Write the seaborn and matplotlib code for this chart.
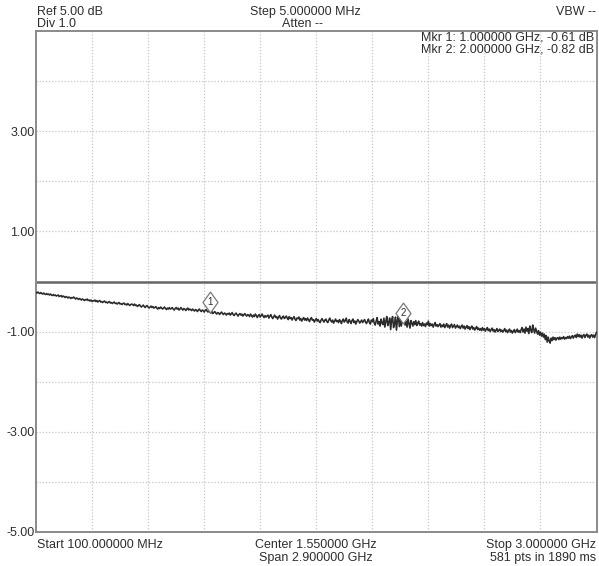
import numpy as np
import pandas as pd
import matplotlib
matplotlib.use("Agg")
import matplotlib.pyplot as plt
from matplotlib.path import Path
from matplotlib.transforms import ScaledTranslation
import seaborn as sns

# Sweep settings
start_mhz = 100.0
step_mhz = 5.0

# Measured trace (dB), one value per sweep point, 100 MHz .. 3000 MHz
trace_db = [
    -0.22,-0.23,-0.21,-0.23,-0.24,-0.22,-0.24,-0.25,-0.23,-0.25,-0.26,-0.24,-0.26,-0.25,-0.27,-0.25,-0.27,-0.28,-0.26,-0.28,
    -0.27,-0.29,-0.28,-0.27,-0.30,-0.29,-0.28,-0.31,-0.29,-0.30,-0.32,-0.30,-0.31,-0.33,-0.31,-0.32,-0.34,-0.32,-0.33,-0.31,
    -0.33,-0.35,-0.33,-0.34,-0.36,-0.34,-0.35,-0.37,-0.35,-0.36,-0.38,-0.36,-0.37,-0.35,-0.38,-0.37,-0.39,-0.37,-0.40,-0.38,
    -0.39,-0.37,-0.40,-0.38,-0.41,-0.39,-0.38,-0.41,-0.40,-0.42,-0.40,-0.39,-0.42,-0.41,-0.43,-0.41,-0.40,-0.43,-0.42,-0.44,
    -0.42,-0.41,-0.44,-0.43,-0.45,-0.43,-0.42,-0.45,-0.44,-0.46,-0.44,-0.43,-0.46,-0.45,-0.47,-0.44,-0.46,-0.48,-0.46,-0.45,
    -0.46,-0.48,-0.45,-0.48,-0.47,-0.50,-0.48,-0.46,-0.49,-0.51,-0.49,-0.47,-0.50,-0.52,-0.49,-0.48,-0.51,-0.53,-0.51,-0.49,
    -0.52,-0.50,-0.53,-0.52,-0.50,-0.53,-0.55,-0.52,-0.54,-0.51,-0.53,-0.55,-0.53,-0.51,-0.54,-0.56,-0.53,-0.55,-0.52,-0.55,
    -0.54,-0.52,-0.55,-0.57,-0.54,-0.52,-0.55,-0.53,-0.57,-0.55,-0.52,-0.55,-0.57,-0.54,-0.55,-0.58,-0.55,-0.53,-0.57,-0.55,
    -0.56,-0.58,-0.55,-0.57,-0.59,-0.56,-0.57,-0.60,-0.57,-0.55,-0.58,-0.60,-0.57,-0.58,-0.61,-0.58,-0.56,-0.59,-0.61,-0.58,
    -0.61,-0.63,-0.60,-0.64,-0.62,-0.60,-0.63,-0.65,-0.62,-0.63,-0.66,-0.63,-0.61,-0.64,-0.66,-0.63,-0.64,-0.67,-0.64,-0.65,
    -0.63,-0.67,-0.65,-0.62,-0.66,-0.68,-0.65,-0.63,-0.66,-0.69,-0.66,-0.64,-0.67,-0.65,-0.69,-0.67,-0.64,-0.67,-0.69,-0.66,
    -0.67,-0.70,-0.65,-0.68,-0.71,-0.67,-0.70,-0.65,-0.68,-0.72,-0.68,-0.66,-0.71,-0.68,-0.65,-0.69,-0.72,-0.68,-0.71,-0.69,
    -0.67,-0.73,-0.69,-0.66,-0.71,-0.74,-0.70,-0.67,-0.72,-0.70,-0.75,-0.71,-0.68,-0.73,-0.75,-0.71,-0.69,-0.74,-0.72,-0.69,
    -0.73,-0.76,-0.70,-0.74,-0.72,-0.77,-0.73,-0.70,-0.75,-0.78,-0.73,-0.74,-0.71,-0.77,-0.74,-0.79,-0.75,-0.72,-0.77,-0.74,
    -0.78,-0.73,-0.76,-0.80,-0.75,-0.72,-0.77,-0.76,-0.81,-0.77,-0.74,-0.79,-0.76,-0.80,-0.82,-0.77,-0.74,-0.78,-0.81,-0.77,
    -0.75,-0.80,-0.82,-0.77,-0.73,-0.78,-0.81,-0.77,-0.83,-0.79,-0.75,-0.80,-0.78,-0.82,-0.76,-0.79,-0.84,-0.78,-0.75,-0.81,
    -0.78,-0.73,-0.81,-0.83,-0.76,-0.79,-0.84,-0.78,-0.75,-0.82,-0.79,-0.85,-0.80,-0.76,-0.79,-0.83,-0.80,-0.77,-0.82,-0.79,
    -0.76,-0.81,-0.84,-0.79,-0.75,-0.82,-0.85,-0.77,-0.80,-0.74,-0.83,-0.87,-0.79,-0.72,-0.85,-0.80,-0.89,-0.75,-0.83,-0.86,
    -0.73,-0.91,-0.79,-0.70,-0.88,-0.81,-0.73,-0.96,-0.77,-0.70,-0.92,-0.84,-0.71,-0.97,-0.78,-0.67,-0.90,-0.75,-0.89,-0.73,
    -0.82,-0.77,-0.87,-0.80,-0.91,-0.75,-0.84,-0.93,-0.78,-0.83,-0.89,-0.80,-0.86,-0.78,-0.88,-0.83,-0.79,-0.87,-0.84,-0.89,
    -0.82,-0.88,-0.85,-0.90,-0.83,-0.86,-0.79,-0.89,-0.84,-0.88,-0.85,-0.91,-0.86,-0.82,-0.89,-0.86,-0.90,-0.87,-0.84,-0.91,
    -0.87,-0.90,-0.85,-0.92,-0.88,-0.84,-0.91,-0.87,-0.93,-0.88,-0.85,-0.92,-0.89,-0.86,-0.93,-0.90,-0.87,-0.92,-0.89,-0.94,
    -0.90,-0.87,-0.93,-0.89,-0.95,-0.91,-0.88,-0.94,-0.90,-0.96,-0.92,-0.89,-0.95,-0.92,-0.97,-0.93,-0.90,-0.96,-0.93,-0.97,
    -0.94,-0.98,-0.92,-0.97,-0.94,-0.99,-0.95,-0.92,-0.98,-0.95,-1.00,-0.96,-0.93,-0.99,-0.96,-1.01,-0.97,-0.94,-1.00,-0.97,
    -0.95,-1.00,-0.97,-1.01,-0.98,-0.94,-1.00,-0.97,-1.02,-0.98,-0.95,-1.01,-0.98,-1.03,-0.99,-0.96,-1.02,-0.99,-0.95,-1.01,
    -0.98,-1.02,-0.96,-0.92,-1.01,-0.95,-1.03,-0.91,-0.99,-0.94,-1.04,-0.89,-0.97,-1.02,-0.87,-0.96,-1.03,-0.93,-0.99,-1.05,
    -0.98,-1.07,-1.01,-1.09,-1.03,-1.11,-1.05,-1.16,-1.08,-1.21,-1.11,-1.19,-1.23,-1.13,-1.18,-1.11,-1.16,-1.12,-1.17,-1.13,
    -1.12,-1.16,-1.11,-1.15,-1.12,-1.14,-1.10,-1.15,-1.12,-1.14,-1.10,-1.13,-1.09,-1.14,-1.11,-1.08,-1.13,-1.09,-1.07,-1.12,
    -1.05,-1.10,-1.06,-1.11,-1.07,-1.13,-1.08,-1.06,-1.12,-1.07,-1.05,-1.11,-1.07,-1.13,-1.08,-1.06,-1.11,-1.07,-1.12,-1.06,
    -1.01,
]

# Markers
marker_ids = ["1", "2"]
marker_freq_ghz = [1.0, 2.0]
marker_db = [-0.61, -0.82]

# Axis scale
ref_db = 5.0
div_db = 1.0
ytick_values = [3.0, 1.0, -1.0, -3.0, -5.0]
ytick_labels = ["3.00", "1.00", "-1.00", "-3.00", "-5.00"]

freq_ghz = (start_mhz + step_mhz * np.arange(len(trace_db))) / 1000.0
df = pd.DataFrame({"freq": freq_ghz, "level": trace_db})

sns.set_style("white")
plt.rcParams["font.family"] = ["Liberation Sans", "DejaVu Sans"]

txt_color = "#2e2e2e"
fs = 9.0

fig = plt.figure(figsize=(5.99, 5.66), dpi=100)
ax = fig.add_axes([36 / 599, 34 / 566, 560.5 / 599, 501 / 566])

f0, f1 = freq_ghz[0], freq_ghz[-1]
ax.set_xlim(f0, f1)
ax.set_ylim(ref_db - 10 * div_db, ref_db)

# graticule
xgrid = np.linspace(f0, f1, 11)[1:-1]
for xv in xgrid:
    ax.axvline(xv, color="#c4c4c4", lw=0.9, ls=(0, (1, 1.5)), zorder=1)
for yv in np.arange(ref_db - 10 * div_db + div_db, ref_db, div_db):
    if abs(yv) < 1e-9:
        continue
    ax.axhline(yv, color="#c4c4c4", lw=0.9, ls=(0, (1, 1.5)), zorder=1)
ax.axhline(0.0, color="#666666", lw=1.8, zorder=2)

sns.lineplot(data=df, x="freq", y="level", ax=ax, color="#2b2b2b", lw=1.15, zorder=3)

# marker diamonds drawn slightly above the trace point
diamond = Path([(0, 1), (0.72, 0), (0, -1), (-0.72, 0), (0, 1)],
               [Path.MOVETO, Path.LINETO, Path.LINETO, Path.LINETO, Path.CLOSEPOLY])
lift = ScaledTranslation(0, 10 / 100, fig.dpi_scale_trans)
for mid, mf, md in zip(marker_ids, marker_freq_ghz, marker_db):
    ax.plot([mf], [md], marker=diamond, ms=15, mfc="white", mec="#777777", mew=0.9,
            transform=ax.transData + lift, zorder=4)
    ax.text(mf, md, mid, ha="center", va="center", fontsize=7, color=txt_color,
            transform=ax.transData + lift, zorder=5)

ax.set_yticks(ytick_values)
ax.set_yticklabels(ytick_labels)
ax.set_xticks([])
ax.tick_params(axis="y", length=0, pad=1, labelsize=fs, labelcolor=txt_color)
ax.set_xlabel("")
ax.set_ylabel("")
for sp in ax.spines.values():
    sp.set_color("#8a8a8a")
    sp.set_linewidth(1.4)

# header / footer annotations
def ftext(x, y, s, ha="left"):
    fig.text(x / 599, 1 - y / 566, s, ha=ha, va="center", fontsize=fs, color=txt_color)

ftext(37, 12, "Ref 5.00 dB")
ftext(37, 24, "Div 1.0")
ftext(305, 12, "Step 5.000000 MHz", ha="center")
ftext(303, 24, "Atten --", ha="center")
ftext(596, 12, "VBW --", ha="right")
ftext(594, 38, "Mkr 1: 1.000000 GHz, -0.61 dB", ha="right")
ftext(594, 49, "Mkr 2: 2.000000 GHz, -0.82 dB", ha="right")

ftext(37, 545, "Start 100.000000 MHz")
ftext(316, 545, "Center 1.550000 GHz", ha="center")
ftext(316, 558, "Span 2.900000 GHz", ha="center")
ftext(596, 545, "Stop 3.000000 GHz", ha="right")
ftext(596, 558, "581 pts in 1890 ms", ha="right")

fig.savefig("out.png", dpi=100, facecolor="white")
